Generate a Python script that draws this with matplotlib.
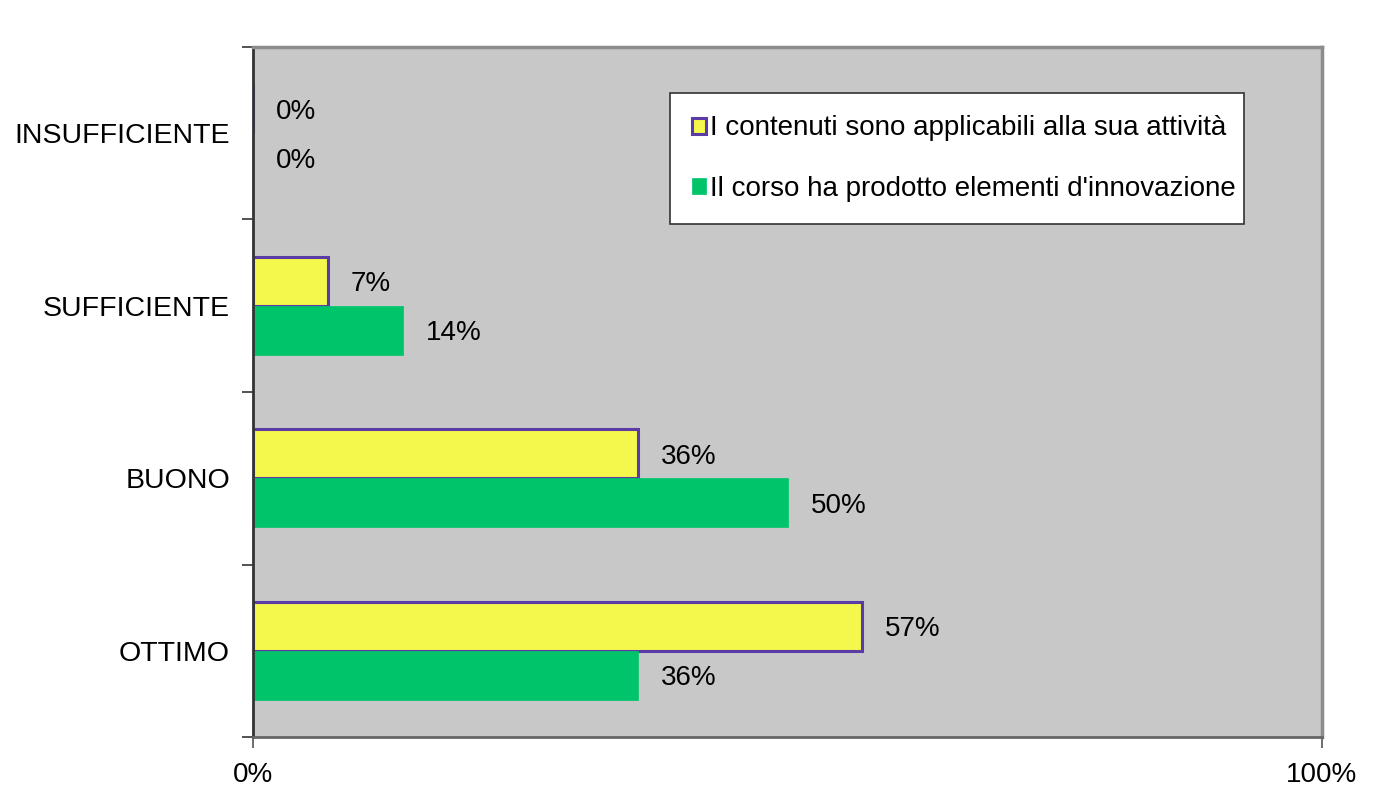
import matplotlib.pyplot as plt
import numpy as np

plt.rcParams['font.family'] = ['Liberation Sans', 'DejaVu Sans']

categories = ['INSUFFICIENTE', 'SUFFICIENTE', 'BUONO', 'OTTIMO']
applicabili = [0, 7, 36, 57]
innovazione = [0, 14, 50, 36]
labels = ['I contenuti sono applicabili alla sua attività',
          "Il corso ha prodotto elementi d'innovazione"]

yellow = '#F4F74C'
purple = '#5B3CA6'
green = '#00C46A'
bg = '#C8C8C8'

fig = plt.figure(figsize=(13.82, 7.89), dpi=100)
ax = fig.add_axes([253 / 1382, 1 - 737 / 789, 1069 / 1382, 690 / 789])
ax.set_facecolor(bg)

y = np.arange(len(categories))
h = 0.285
ax.barh(y - h / 2, applicabili, height=h, color=yellow, edgecolor=purple,
        linewidth=2.2, label=labels[0])
ax.barh(y + h / 2, innovazione, height=h, color=green, edgecolor=green,
        linewidth=0.5, label=labels[1])

# etichette con i valori
for i in range(len(categories)):
    ax.annotate(f'{applicabili[i]}%', (applicabili[i], y[i] - h / 2),
                xytext=(23, -3), textcoords='offset pixels',
                va='center', ha='left', fontsize=20)
    ax.annotate(f'{innovazione[i]}%', (innovazione[i], y[i] + h / 2),
                xytext=(23, -3), textcoords='offset pixels',
                va='center', ha='left', fontsize=20)

ax.set_xlim(0, 100)
ax.set_ylim(3.5, -0.5)

ax.set_xticks([0, 100])
ax.set_xticklabels(['0%', '100%'], fontsize=20)
ax.tick_params(axis='x', length=8, width=1.2, color='#555555', pad=10)

ax.set_yticks(np.arange(-0.5, 4, 1))
ax.set_yticklabels([])
ax.set_yticks(y, minor=True)
ax.set_yticklabels(categories, minor=True, fontsize=20.5)
ax.tick_params(axis='y', which='major', length=8, width=1.2, color='#333333')
ax.tick_params(axis='y', which='minor', length=0, pad=16.5)

for side in ['top', 'right']:
    ax.spines[side].set_color('#8C8C8C')
    ax.spines[side].set_linewidth(2.5)
ax.spines['left'].set_color('#333333')
ax.spines['left'].set_linewidth(2)
ax.spines['bottom'].set_color('#666666')
ax.spines['bottom'].set_linewidth(2)

leg = ax.legend(loc='upper left', bbox_to_anchor=(0.39, 0.933, 0.537, 0.0),
                mode='expand', fontsize=20,
                frameon=True, fancybox=False, edgecolor='#333333',
                facecolor='white', framealpha=1,
                handlelength=0.5, handleheight=0.5, handletextpad=0.15,
                labelspacing=1.25, borderpad=0.8, borderaxespad=0)
leg.get_frame().set_linewidth(1.2)

fig.savefig('out.png', dpi=100)
